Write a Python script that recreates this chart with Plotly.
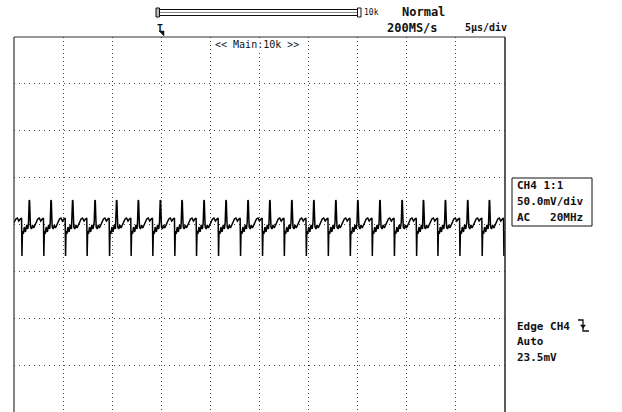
import plotly.graph_objects as go

# ---------------- data (read from the screen capture) ----------------
# time base: 5 us/div, 10 divisions; vertical: 50 mV/div, 8 divisions
time_per_div_us = 5.0
volt_per_div_mv = 50.0

# one switching cycle of the ripple, offsets (us) relative to the positive spike
cycle_offset_us = [-0.07, 0.00, 0.04, 0.08, 0.13, 0.23, 0.34, 0.46, 0.66, 0.87,
                   1.02, 1.17, 1.32, 1.45, 1.49, 1.54, 1.63, 1.73, 1.85, 1.97, 2.09]
cycle_value_mv = [2.7, 26.1, 25.1, 11.2, -2.7, -4.8, -0.5, -3.7, 1.6, 5.9,
                  6.9, 3.7, 5.9, 6.9, -33.6, -6.9, -10.1, -2.7, -8.0, -0.5, -4.8]

# times (us) of the positive spikes
spike_times_us = [-0.68, 1.55, 3.76, 5.96, 8.24, 10.44, 12.65, 14.89, 17.10, 19.34,
                  21.58, 23.82, 26.04, 28.28, 30.52, 32.76, 35.00, 37.25,
                  39.51, 41.68, 43.92, 46.19, 48.40]

t_us, v_mv = [], []
for ts in spike_times_us:
    for off, val in zip(cycle_offset_us, cycle_value_mv):
        t = ts + off
        if -0.05 <= t <= 50.0:
            t_us.append(t)
            v_mv.append(val)

# ---------------- figure ----------------
W, H = 622, 412
L, R, T, B = 14, 117, 37, 0
PW, PH = W - L - R, H - T - B

def px(x):  # window pixel -> paper
    return (x - L) / PW

def py(y):
    return (H - B - y) / PH

FONT = "DejaVu Sans Mono"
INK = "#111111"

fig = go.Figure()
fig.add_trace(go.Scatter(x=t_us, y=v_mv, mode="lines",
                         line=dict(color="#000000", width=1.5),
                         hoverinfo="skip", showlegend=False))

fig.update_xaxes(range=[0, 10 * time_per_div_us], dtick=time_per_div_us,
                 showgrid=True, gridcolor="#444444", gridwidth=1, griddash="1px,3px",
                 zeroline=False, showticklabels=False, ticks="", showline=False)
fig.update_yaxes(range=[-4 * volt_per_div_mv, 4 * volt_per_div_mv], dtick=volt_per_div_mv,
                 showgrid=True, gridcolor="#444444", gridwidth=1, griddash="1px,4px",
                 zeroline=False, showticklabels=False, ticks="", showline=False)

shapes = []
# frame (left, top, right; bottom runs off the capture)
for x0, y0, x1, y1, w in [(0, 0, 0, 1, 1.2), (0, 1, 1, 1, 1.2), (1, 0, 1, 1, 1.6)]:
    shapes.append(dict(type="line", xref="paper", yref="paper", x0=x0, y0=y0, x1=x1, y1=y1,
                       line=dict(color="#333333", width=w)))
# record-length bar at top
shapes.append(dict(type="rect", xref="paper", yref="paper", x0=px(159), x1=px(358),
                   y0=py(15.5), y1=py(9.5), line=dict(color=INK, width=1)))
shapes.append(dict(type="line", xref="paper", yref="paper", x0=px(159), x1=px(358),
                   y0=py(12.5), y1=py(12.5), line=dict(color="#888888", width=1)))
shapes.append(dict(type="rect", xref="paper", yref="paper", x0=px(156), x1=px(159.5),
                   y0=py(17), y1=py(8), line=dict(color=INK, width=1), fillcolor="#bbbbbb"))
shapes.append(dict(type="rect", xref="paper", yref="paper", x0=px(357.5), x1=px(361),
                   y0=py(17), y1=py(8), line=dict(color=INK, width=1), fillcolor="#ffffff"))
# trigger position marker
shapes.append(dict(type="path", xref="paper", yref="paper",
                   path=f"M {px(159)} {py(31)} L {px(164)} {py(31)} L {px(164)} {py(36)} Z",
                   fillcolor=INK, line=dict(color=INK, width=0.5)))
# channel info box
shapes.append(dict(type="rect", xref="paper", yref="paper", x0=px(512), x1=px(592),
                   y0=py(226), y1=py(178), line=dict(color=INK, width=1)))
# falling-edge trigger symbol
shapes.append(dict(type="path", xref="paper", yref="paper",
                   path=(f"M {px(578)} {py(320)} L {px(583)} {py(320)} L {px(583)} {py(331)} "
                         f"L {px(589)} {py(331)}"),
                   line=dict(color=INK, width=1.3)))
shapes.append(dict(type="path", xref="paper", yref="paper",
                   path=f"M {px(580.5)} {py(325)} L {px(585.5)} {py(325)} L {px(583)} {py(328.5)} Z",
                   fillcolor=INK, line=dict(color=INK, width=0.5)))
fig.update_layout(shapes=shapes)

def label(text, x, y, size=12, anchor="left", bg=None, bold=False):
    if bold:
        text = f"<b>{text}</b>"
    fig.add_annotation(text=text, xref="paper", yref="paper", x=px(x), y=py(y),
                       xanchor=anchor, yanchor="middle", showarrow=False,
                       font=dict(family=FONT, size=size, color=INK),
                       bgcolor=bg, borderpad=0)

label("10k", 363, 12.5, size=8)
label("Normal", 401, 12, size=12, bold=True)
label("200MS/s", 386, 28, size=12, bold=True)
label("5µs/div", 464, 28, size=10, bold=True)
label("T", 156, 29, size=10, bold=True)
label("<< Main:10k >>", 257, 44.5, size=10, anchor="center", bg="#ffffff")
label("CH4 1:1", 516, 185, size=11, bold=True)
label("50.0mV/div", 516, 201, size=11, bold=True)
label("AC   20MHz", 516, 217, size=11, bold=True)
label("Edge CH4", 516, 326, size=11, bold=True)
label("Auto", 516, 341, size=11, bold=True)
label("23.5mV", 516, 357, size=11, bold=True)

fig.update_layout(width=W, height=H, margin=dict(l=L, r=R, t=T, b=B, pad=0),
                  paper_bgcolor="#ffffff", plot_bgcolor="#ffffff", showlegend=False)

# remove the default 8 px page margin so the 622x412 figure fills the window
fig.write_html("out.html", config={"displayModeBar": False},
               post_script="document.body.style.margin='0px';document.body.style.overflow='hidden';")
